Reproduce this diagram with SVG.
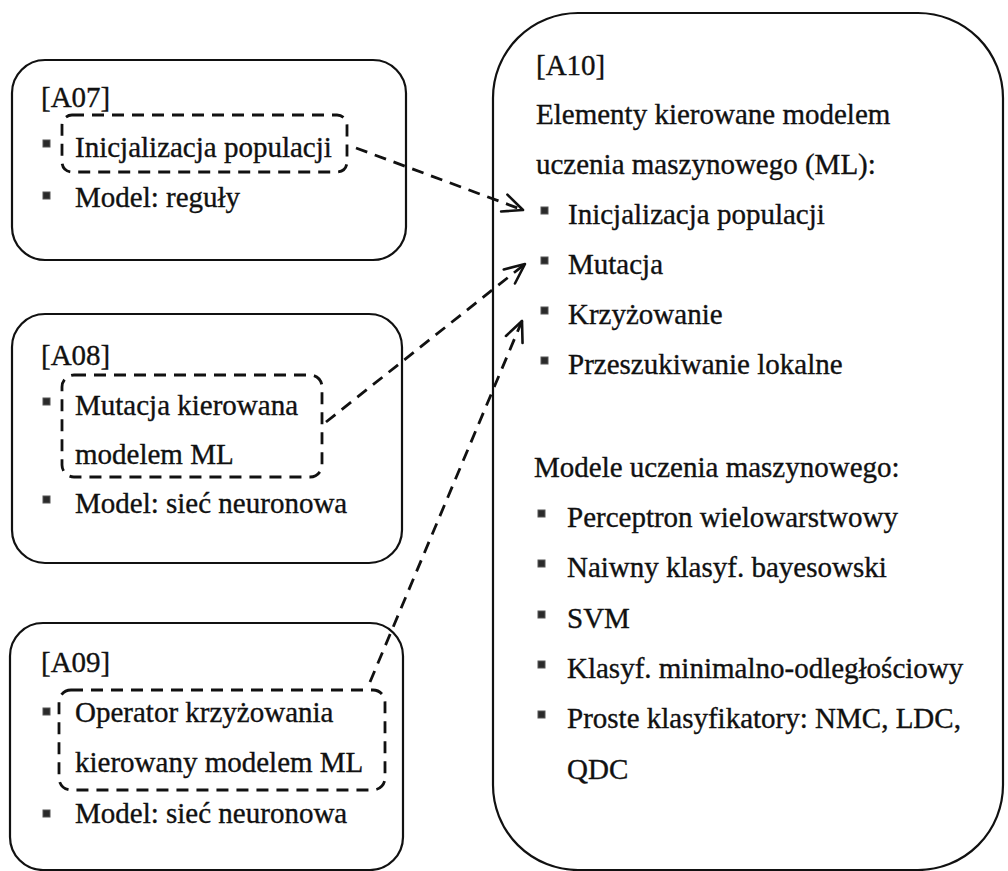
<svg xmlns="http://www.w3.org/2000/svg" width="1008" height="871" viewBox="0 0 1008 871">
  <style>
    .box { fill: none; stroke: #111; stroke-width: 2.2; }
    .focus { fill: none; stroke: #111; stroke-width: 2.8; stroke-dasharray: 12 8; }
    .link { fill: none; stroke: #111; stroke-width: 2.8; stroke-dasharray: 12 8; }
    text { font-family: 'Liberation Serif', 'Times New Roman', serif; font-size: 29px; fill: #111; stroke: #111; stroke-width: 0.35; }
    .b { fill: #2a2a2a; stroke: #555; stroke-width: 1; }
  </style>
  <defs>
    <!-- open V arrowhead shared by all three connectors -->
    <marker id="open" viewBox="0 0 24 24" refX="22" refY="12" markerWidth="24" markerHeight="24" markerUnits="userSpaceOnUse" orient="auto">
      <path d="M2,3 L22,12 L2,21" fill="none" stroke="#111" stroke-width="2.6" stroke-linecap="round" stroke-linejoin="round"/>
    </marker>
  </defs>

  <rect width="1008" height="871" fill="#fff"/>

  <g id="A07">
    <rect class="box" x="12" y="60" width="394" height="200" rx="33"/>
    <rect class="focus" x="62" y="115" width="285" height="57" rx="10"/>
    <text x="41" y="107">[A07]</text>
    <rect class="b" x="43" y="140" width="7" height="7"/>
    <text x="75" y="157">Inicjalizacja populacji</text>
    <rect class="b" x="43" y="192" width="7" height="7"/>
    <text x="75" y="207">Model: reguły</text>
  </g>

  <g id="A08">
    <rect class="box" x="12" y="314" width="390" height="249" rx="33"/>
    <rect class="focus" x="62" y="375" width="260" height="102" rx="12"/>
    <text x="41" y="365">[A08]</text>
    <rect class="b" x="43" y="398" width="7" height="7"/>
    <text x="75" y="415">Mutacja kierowana</text>
    <text x="75" y="464">modelem ML</text>
    <rect class="b" x="43" y="496" width="7" height="7"/>
    <text x="75" y="513">Model: sieć neuronowa</text>
  </g>

  <g id="A09">
    <rect class="box" x="10" y="623" width="393" height="247" rx="33"/>
    <rect class="focus" x="59" y="690" width="326" height="100" rx="12"/>
    <text x="41" y="672">[A09]</text>
    <rect class="b" x="43" y="708" width="7" height="7"/>
    <text x="75" y="722">Operator krzyżowania</text>
    <text x="75" y="772">kierowany modelem ML</text>
    <rect class="b" x="43" y="810" width="7" height="7"/>
    <text x="75" y="823">Model: sieć neuronowa</text>
  </g>

  <g id="A10">
    <rect class="box" x="493" y="13" width="510" height="857" rx="85"/>
    <text x="536" y="75">[A10]</text>
    <text x="536" y="124">Elementy kierowane modelem</text>
    <text x="536" y="174">uczenia maszynowego (ML):</text>
    <rect class="b" x="541" y="207" width="7" height="7"/>
    <text x="568" y="224">Inicjalizacja populacji</text>
    <rect class="b" x="541" y="257" width="7" height="7"/>
    <text x="568" y="274">Mutacja</text>
    <rect class="b" x="541" y="307" width="7" height="7"/>
    <text x="568" y="324">Krzyżowanie</text>
    <rect class="b" x="541" y="357" width="7" height="7"/>
    <text x="568" y="374">Przeszukiwanie lokalne</text>

    <text x="534" y="477">Modele uczenia maszynowego:</text>
    <rect class="b" x="538" y="510" width="7" height="7"/>
    <text x="567" y="527">Perceptron wielowarstwowy</text>
    <rect class="b" x="538" y="560" width="7" height="7"/>
    <text x="567" y="577">Naiwny klasyf. bayesowski</text>
    <rect class="b" x="538" y="611" width="7" height="7"/>
    <text x="567" y="628">SVM</text>
    <rect class="b" x="538" y="661" width="7" height="7"/>
    <text x="567" y="678">Klasyf. minimalno-odległościowy</text>
    <rect class="b" x="538" y="711" width="7" height="7"/>
    <text x="567" y="728">Proste klasyfikatory: NMC, LDC,</text>
    <text x="567" y="779">QDC</text>
  </g>

  <g id="connectors">
    <path class="link" d="M356,148 L523,210" marker-end="url(#open)"/>
    <path class="link" d="M326,422 L525,264" marker-end="url(#open)"/>
    <path class="link" d="M370,682 L522,321" marker-end="url(#open)"/>
  </g>
</svg>
